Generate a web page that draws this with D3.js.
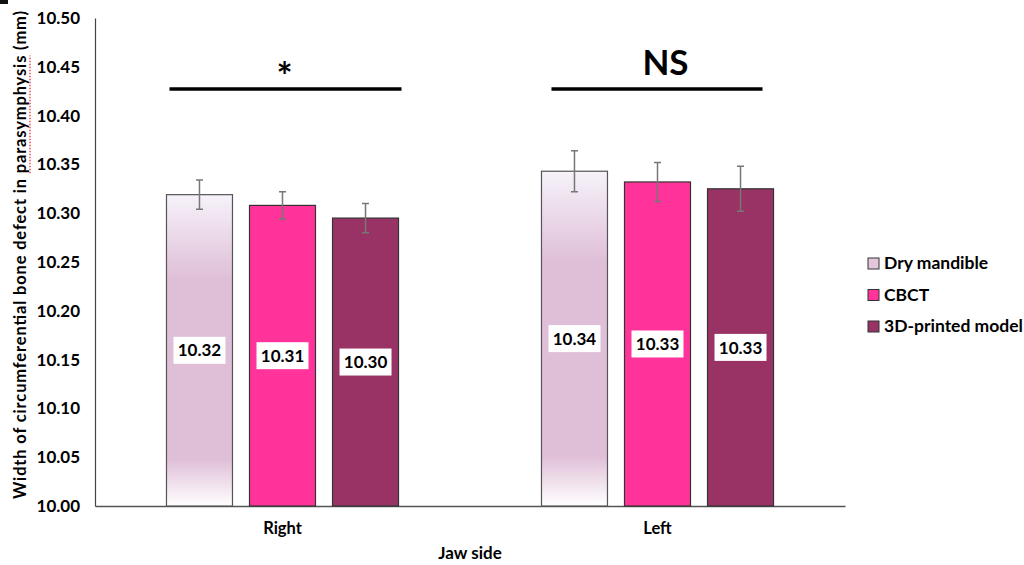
<!DOCTYPE html>
<html><head><meta charset="utf-8">
<script src="https://cdn.jsdelivr.net/npm/d3@7"></script>
<style>
html,body{margin:0;padding:0;background:#fff;}
text{font-family:Lato,"Open Sans",sans-serif;font-weight:bold;fill:#000;}
</style></head>
<body><svg id="c" width="1024" height="565"></svg>
<script>
const categories = ["Right", "Left"];
const series = ["Dry mandible", "CBCT", "3D-printed model"];
const means = {
  "Dry mandible": [10.319, 10.343],
  "CBCT": [10.308, 10.332],
  "3D-printed model": [10.295, 10.325]
};
const errors = {
  "Dry mandible": [0.015, 0.021],
  "CBCT": [0.014, 0.020],
  "3D-printed model": [0.015, 0.023]
};
const valueLabels = {
  "Dry mandible": ["10.32", "10.34"],
  "CBCT": ["10.31", "10.33"],
  "3D-printed model": ["10.30", "10.33"]
};
const yTicks = [10.00,10.05,10.10,10.15,10.20,10.25,10.30,10.35,10.40,10.45,10.50];
const significance = ["*", "NS"];
const colors = {"Dry mandible":"url(#dryGrad)", "CBCT":"#FF3399", "3D-printed model":"#993366"};
const legendColors = {"Dry mandible":"#E4C6DC", "CBCT":"#FF3399", "3D-printed model":"#993366"};
const strokes = {"Dry mandible":"#555", "CBCT":"#333", "3D-printed model":"#333"};

(function(){
const svg = d3.select("#c");
const defs = svg.append("defs");
const g = defs.append("linearGradient").attr("id","dryGrad").attr("x1",0).attr("y1",0).attr("x2",0).attr("y2",1);
[[0,"#F6F2FA"],[0.27,"#DFBFD7"],[0.85,"#DFBFD7"],[1,"#FFFFFF"]].forEach(([o,c])=>g.append("stop").attr("offset",o).attr("stop-color",c));

svg.append("rect").attr("x",0).attr("y",0).attr("width",8).attr("height",4).attr("fill","#111");

const pl = 95, pr = 845, pt = 18, pb = 506;
const y = d3.scaleLinear().domain([10.0, 10.5]).range([pb, pt]);
const x0 = d3.scaleBand().domain(categories).range([pl, pr]).padding(0);
const x1 = d3.scaleBand().domain(series).range([0, x0.bandwidth()]).paddingInner(0.205).paddingOuter(0.861);

const yAxis = d3.axisLeft(y).tickValues(yTicks).tickFormat(d3.format(".2f")).tickSize(0).tickPadding(15);
const ya = svg.append("g").attr("transform",`translate(${pl},0)`).call(yAxis);
ya.select(".domain").attr("stroke","#444").attr("stroke-width",1.2);
ya.selectAll("text").style("font-size","17px").style("font-family","Lato,sans-serif").style("font-weight","bold").attr("fill","#000");

const xAxis = d3.axisBottom(x0).tickSize(0).tickPadding(16);
const xa = svg.append("g").attr("transform",`translate(0,${pb})`).call(xAxis);
xa.select(".domain").attr("stroke","#555").attr("stroke-width",1.5);
xa.selectAll("text").style("font-size","16.5px").style("font-family","Lato,sans-serif").style("font-weight","bold").attr("fill","#000");

const groups = svg.append("g").selectAll("g").data(categories).join("g")
  .attr("transform", d => `translate(${x0(d)},0)`);
series.forEach(s => {
  groups.append("rect")
    .attr("x", x1(s)).attr("width", x1.bandwidth())
    .attr("y", (d,i) => y(means[s][i]))
    .attr("height", (d,i) => y(10.0) - y(means[s][i]))
    .attr("fill", colors[s]).attr("stroke", strokes[s]).attr("stroke-width",1.2);
});
series.forEach(s => {
  const cx = x1(s) + x1.bandwidth()/2;
  groups.append("path")
    .attr("d", (d,i) => {
      const hi = y(means[s][i]+errors[s][i]), lo = y(means[s][i]-errors[s][i]);
      return `M${cx},${hi}V${lo}M${cx-3.5},${hi}H${cx+3.5}M${cx-3.5},${lo}H${cx+3.5}`;
    })
    .attr("stroke","#777").attr("stroke-width",1.5).attr("fill","none");
});
series.forEach(s => {
  const cx = x1(s) + x1.bandwidth()/2;
  const lg = groups.append("g").attr("transform",(d,i)=>`translate(${cx},${(y(means[s][i])+y(10.0))/2})`);
  lg.append("rect").attr("x",-26).attr("y",-13.5).attr("width",52).attr("height",27).attr("fill","#fff");
  lg.append("text").attr("text-anchor","middle").attr("dy","0.36em").style("font-size","17px")
    .text((d,i)=>valueLabels[s][i]);
});

categories.forEach((c,i) => {
  const xs = x0(c) + x1(series[0]) + (i===0?3:10);
  const xe = x0(c) + x1(series[2]) + x1.bandwidth() + (i===0?3:-11);
  svg.append("line").attr("x1", xs).attr("x2", xe)
    .attr("y1", 89).attr("y2", 89).attr("stroke","#000").attr("stroke-width",3.5);
  const mid = x0(c) + x0.bandwidth()/2 + (i===0?2:8);
  svg.append("text").attr("x", mid).attr("y", i===0?90:75).attr("text-anchor","middle")
    .style("font-size", i===0?"38px":"35px").text(significance[i]);
});

svg.append("text").attr("x", 470).attr("y", 559).attr("text-anchor","middle").style("font-size","17px").text("Jaw side");
const yt = svg.append("text").attr("transform","translate(26,255) rotate(-90)").attr("text-anchor","middle").style("font-size","16.5px")
  .attr("textLength", 488).attr("lengthAdjust","spacing")
  .text("Width of circumferential bone defect in parasymphysis (mm)");
const full = yt.text(), word = "parasymphysis";
const tn = yt.node();
const idx = full.indexOf(word);
let x1u, x2u;
try {
  x1u = tn.getStartPositionOfChar(idx).x;
  x2u = tn.getEndPositionOfChar(idx + word.length - 1).x;
} catch(e) { x1u = 60; x2u = 165; }
svg.append("line").attr("transform","translate(26,255) rotate(-90)")
  .attr("x1", x1u).attr("x2", x2u).attr("y1", 4).attr("y2", 4)
  .attr("stroke","#E33").attr("stroke-width",1.3).attr("stroke-dasharray","1.5,1.5");

const leg = svg.append("g").attr("transform","translate(868,258)");
series.forEach((s,i) => {
  const r = leg.append("g").attr("transform",`translate(0,${i*31.5})`);
  r.append("rect").attr("width",11).attr("height",11).attr("fill",legendColors[s]).attr("stroke","#333").attr("stroke-width",1);
  r.append("text").attr("x",16).attr("y",11).style("font-size","17.5px").text(s);
});
})();
</script></body></html>
